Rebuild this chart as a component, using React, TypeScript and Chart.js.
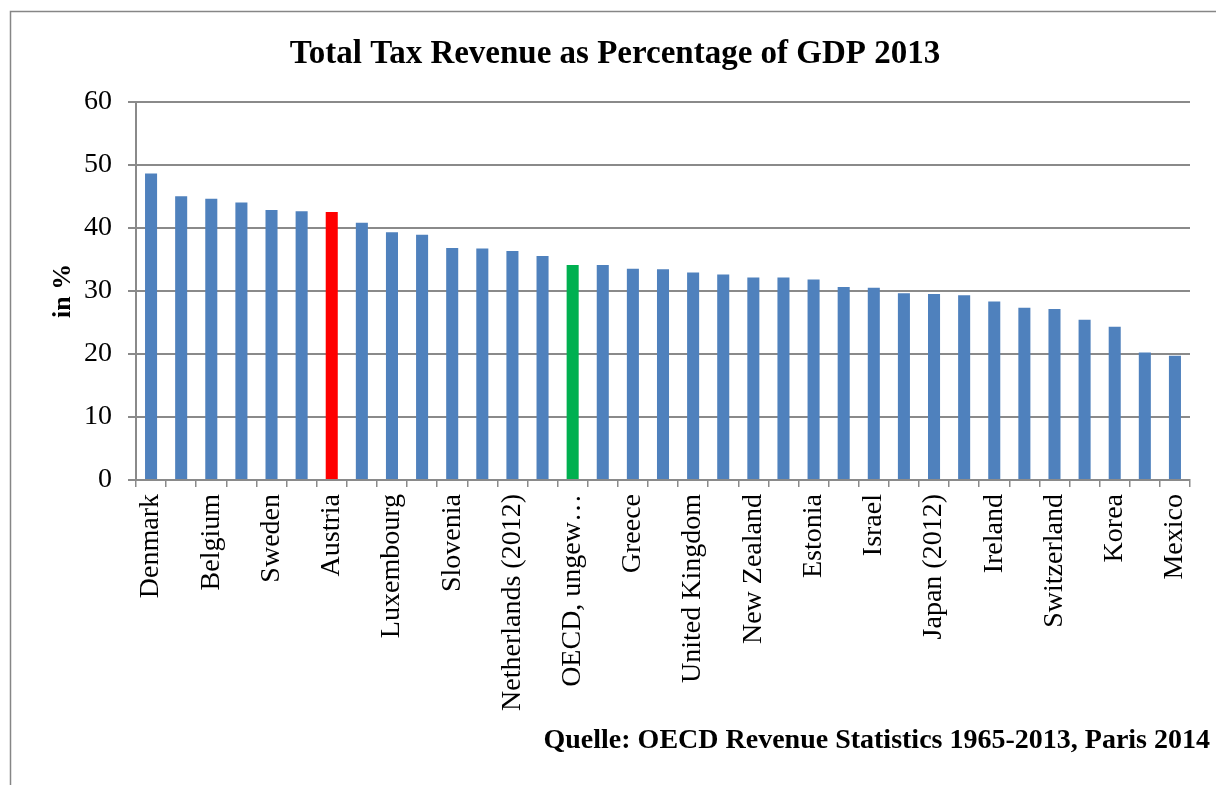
import React, { useEffect, useRef } from "react";
import { Chart, registerables } from "chart.js";

Chart.register(...registerables);

const categories = [
  "Denmark", "France", "Belgium", "Finland", "Sweden", "Italy", "Austria",
  "Norway", "Luxembourg", "Hungary", "Slovenia", "Germany", "Netherlands (2012)",
  "Iceland", "OECD, ungewichteter Durchschnitt", "Czech Republic", "Greece", "Portugal",
  "United Kingdom", "Spain", "New Zealand", "Poland (2012)", "Estonia", "Canada",
  "Israel", "Slovak Republic", "Japan (2012)", "Turkey", "Ireland",
  "Australia (2012)", "Switzerland", "United States", "Korea", "Chile", "Mexico",
];

const values = [
  48.6, 45.0, 44.6, 44.0, 42.8, 42.6, 42.5,
  40.8, 39.3, 38.9, 36.8, 36.7, 36.3,
  35.5, 34.1, 34.1, 33.5, 33.4,
  32.9, 32.6, 32.1, 32.1, 31.8, 30.6,
  30.5, 29.6, 29.5, 29.3, 28.3,
  27.3, 27.1, 25.4, 24.3, 20.2, 19.7,
];

const yTickValues = [0, 10, 20, 30, 40, 50, 60];

const highlightAustria = "Austria";
const highlightOECD = "OECD, ungewichteter Durchschnitt";

const titleText = "Total Tax Revenue as Percentage of GDP 2013";
const yAxisTitle = "in %";
const sourceText = "Quelle: OECD Revenue Statistics 1965-2013, Paris 2014";

const BLUE = "#4F81BD";
const RED = "#FF0000";
const GREEN = "#00B050";
const GRID = "#8a8a8a";
const FONT = "'Liberation Serif', 'Times New Roman', serif";

function truncateLabel(s: string): string {
  return s.length > 20 ? s.slice(0, 11) + "…" : s;
}

export default function App() {
  const canvasRef = useRef<HTMLCanvasElement | null>(null);

  useEffect(() => {
    const canvas = canvasRef.current;
    if (!canvas) return;

    const colors = categories.map((c) =>
      c === highlightAustria ? RED : c === highlightOECD ? GREEN : BLUE
    );

    const framePlugin = {
      id: "frameAndSource",
      beforeDraw(chart: any) {
        const ctx = chart.ctx;
        ctx.save();
        ctx.fillStyle = "#ffffff";
        ctx.fillRect(0, 0, chart.width, chart.height);
        ctx.strokeStyle = "#868686";
        ctx.lineWidth = 1.5;
        ctx.strokeRect(10.5, 11.5, chart.width + 20, chart.height + 20);
        ctx.restore();
      },
      afterDraw(chart: any) {
        const ctx = chart.ctx;
        ctx.save();
        ctx.fillStyle = "#000000";
        ctx.font = `bold 28px ${FONT}`;
        ctx.textAlign = "right";
        ctx.textBaseline = "alphabetic";
        ctx.fillText(sourceText, chart.width - 6, 748);
        ctx.restore();
      },
    };

    const chart = new Chart(canvas, {
      type: "bar",
      data: {
        labels: categories,
        datasets: [
          {
            data: values,
            backgroundColor: colors,
            borderWidth: 0,
            barPercentage: 0.4,
            categoryPercentage: 1.0,
          },
        ],
      },
      options: {
        animation: false,
        responsive: false,
        devicePixelRatio: 1,
        layout: { padding: { left: 40, right: 26, top: 0, bottom: 0 } },
        plugins: {
          legend: { display: false },
          tooltip: { enabled: false },
          title: {
            display: true,
            text: titleText,
            color: "#000000",
            font: { family: FONT, size: 33, weight: "bold" },
            padding: { top: 35, bottom: 27 },
          },
        },
        scales: {
          x: {
            type: "category",
            offset: true,
            grid: {
              display: true,
              offset: true,
              drawOnChartArea: false,
              drawTicks: true,
              tickLength: 7,
              color: GRID,
              lineWidth: 1.5,
            },
            border: { display: true, color: GRID, width: 2 },
            ticks: {
              autoSkip: false,
              maxRotation: 90,
              minRotation: 90,
              padding: 7,
              color: "#000000",
              font: { family: FONT, size: 28 },
              callback: (_v: any, index: number) =>
                index % 2 === 0 ? truncateLabel(categories[index]) : "",
            },
            afterFit: (scale: any) => {
              scale.height = 305;
            },
          },
          y: {
            min: 0,
            max: 60,
            afterBuildTicks: (scale: any) => {
              scale.ticks = yTickValues.map((v) => ({ value: v }));
            },
            grid: {
              color: GRID,
              lineWidth: 2,
              drawTicks: true,
              tickLength: 8,
            },
            border: { display: true, color: GRID, width: 2 },
            ticks: {
              padding: 16,
              color: "#000000",
              font: { family: FONT, size: 28 },
            },
            title: {
              display: true,
              text: yAxisTitle,
              color: "#000000",
              font: { family: FONT, size: 26, weight: "bold" },
              padding: { top: 8, bottom: 0 },
            },
            afterFit: (scale: any) => {
              scale.width = 96;
            },
          },
        },
      },
      plugins: [framePlugin],
    });

    return () => {
      chart.destroy();
    };
  }, []);

  return (
    <div style={{ position: "fixed", left: 0, top: 0, width: 1216, height: 785 }}>
      <canvas
        ref={canvasRef}
        width={1216}
        height={785}
        style={{ width: 1216, height: 785, display: "block" }}
      />
    </div>
  );
}
